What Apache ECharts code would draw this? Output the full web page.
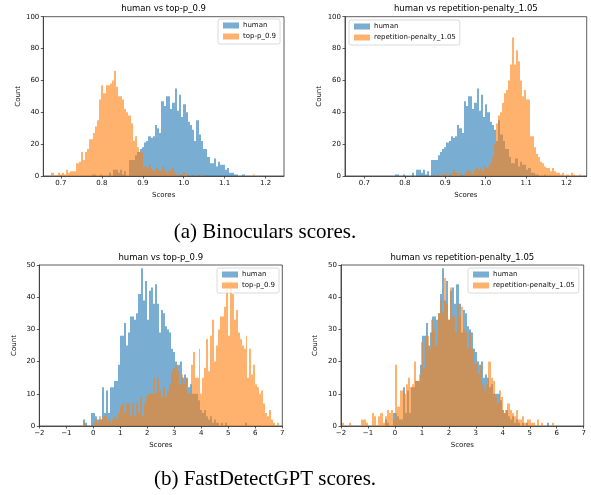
<!DOCTYPE html>
<html><head><meta charset="utf-8">
<script src="https://cdn.jsdelivr.net/npm/echarts@6/dist/echarts.min.js"></script>
<style>html,body{margin:0;padding:0;background:#fff}#c{width:591px;height:495px}</style>
</head><body><div id="c"></div>
<script>
// ---------- data ----------
const binocularsXTicks = [0.7, 0.8, 0.9, 1.0, 1.1, 1.2];
const fastXTicks = [-2, -1, 0, 1, 2, 3, 4, 5, 6, 7];

// Binoculars, human (shared by both top panels)
const binHumanStart = 0.684, binHumanWidth = 0.00534;
const binHumanCounts = [0,0,0,0,0,0,0,0,0,0, 0,0,0,0,0,0,0,1,1,0, 0,1,0,0,0,2,0,4,4,2,
  4,1,3,0,10,10,10,13,15,17, 18,21,22,25,24,25,32,30,27,47, 44,50,50,42,46,55,41,51,37,45,
  40,34,32,29,22,35,26,22,17,17, 12,8,8,11,6,9,7,7,4,5, 2,2,1,1,0,0,1,0,0,0, 0,0,0,0,0,0,0,0,0,0];

// Binoculars, top-p_0.9
const binTopPStart = 0.677, binTopPWidth = 0.00508;
const binTopPCounts = [2,0,0,2,1,2,1,4,2,3, 3,3,8,9,15,10,15,17,23,23, 27,31,35,48,57,52,57,57,58,60,
  66,56,50,50,48,42,40,38,33,22, 25,18,15,15,6,6,5,7,4,3, 5,4,3,6,4,2,3,4,5,2,
  1,1,0,2,1,0,1,0,0,1, 0,0,1,0,0,0,0,0,0,0, 0,0,0,0,0,0,0,0,0,0, 0,0,0,0,0,0,0,1,0,0];

// Binoculars, repetition-penalty_1.05
const binRepStart = 0.735, binRepWidth = 0.005;
const binRepCounts = [0,0,0,0,0,0,0,0,0,0, 0,0,0,0,0,0,0,0,0,0, 0,0,0,0,0,0,0,0,1,0,
  1,1,0,2,1,0,2,4,2,1, 2,0,1,2,4,3,1,4,5,4, 5,3,6,5,6,8,12,20,33,38,
  40,46,52,54,60,70,87,70,79,72, 60,50,54,48,48,25,25,18,14,12, 9,8,6,5,5,3,5,3,2,2, 1,2,0,1,0,2,1,0,0,1];

// FastDetectGPT, human (shared by both bottom panels)
const fastHumanStart = -0.378, fastHumanWidth = 0.076;
const fastHumanCounts = [2,1,0,0,4,4,3,2,2,12, 4,11,4,12,12,14,14,19,28,28, 32,25,29,34,34,33,35,41,49,39,
  45,33,42,43,38,44,38,29,36,35, 31,30,29,24,23,20,19,20,15,16, 15,12,13,10,10,10,8,5,4,5,
  3,2,3,1,2,1,0,1,0,1, 0,0,0,0,0,0,0,0,0,1];

// FastDetectGPT, top-p_0.9
const fastTopPStart = -0.38, fastTopPWidth = 0.0725;
const fastTopPCounts = [1,0,0,0,0,1,2,1,3,2, 3,3,1,2,1,2,3,2,4,6, 7,4,7,7,3,7,3,7,4,9,
  3,7,9,10,10,10,15,10,15,11, 9,12,9,11,13,17,18,19,17,13, 16,13,15,10,10,19,23,15,15,24,
  10,15,18,27,17,28,33,20,25,30, 34,34,37,45,28,45,41,33,36,29, 27,25,24,28,15,24,16,19,13,12, 10,11,7,4,3,5,2,1,0,1];

// FastDetectGPT, repetition-penalty_1.05
const fastRepStart = -1.95, fastRepWidth = 0.0785;
const fastRepCounts = [1,0,0,1,0,0,0,0,0,2, 2,1,0,0,4,3,0,3,4,1, 3,5,4,5,2,19,6,11,11,10,
  13,15,12,13,20,14,16,26,18,28, 28,24,33,30,25,35,39,35,46,38, 33,43,34,29,38,34,37,30,29,24,
  29,24,19,20,16,19,13,11,13,20, 15,14,9,7,11,9,4,5,7,5, 4,3,5,2,2,3,1,2,2,1, 1,0,2,0,1,0,0,0,0,1];

const titles = ['human vs top-p_0.9', 'human vs repetition-penalty_1.05', 'human vs top-p_0.9', 'human vs repetition-penalty_1.05'];
const captions = ['(a) Binoculars scores.', '(b) FastDetectGPT scores.'];

// ---------- layout ----------
const FONT = 'DejaVu Sans';
const BLUE = 'rgba(31,119,180,0.6)', ORANGE = 'rgba(255,127,14,0.6)';
const BLUE_SOLID = 'rgb(121,173,210)', ORANGE_SOLID = 'rgb(255,178,110)';

const panels = [
  {grid:{left:43.3, top:16.7, width:240.7, height:159.3}, xMin:0.657, xMax:1.245, yMax:100, yInt:20, ticks:binocularsXTicks, dec:1,
   human:[binHumanStart, binHumanWidth, binHumanCounts], other:['top-p_0.9', binTopPStart, binTopPWidth, binTopPCounts], legend:{left:218, top:19}},
  {grid:{left:345, top:16.7, width:241.7, height:159.3}, xMin:0.652, xMax:1.25, yMax:100, yInt:20, ticks:binocularsXTicks, dec:1,
   human:[binHumanStart, binHumanWidth, binHumanCounts], other:['repetition-penalty_1.05', binRepStart, binRepWidth, binRepCounts], legend:{left:349, top:20}},
  {grid:{left:39.3, top:265, width:243, height:161}, xMin:-2, xMax:7, yMax:50, yInt:10, ticks:fastXTicks, dec:0,
   human:[fastHumanStart, fastHumanWidth, fastHumanCounts], other:['top-p_0.9', fastTopPStart, fastTopPWidth, fastTopPCounts], legend:{left:217, top:268}},
  {grid:{left:341, top:265, width:242.7, height:161}, xMin:-2, xMax:7, yMax:50, yInt:10, ticks:fastXTicks, dec:0,
   human:[fastHumanStart, fastHumanWidth, fastHumanCounts], other:['repetition-penalty_1.05', fastRepStart, fastRepWidth, fastRepCounts], legend:{left:468, top:268}}
];

function bins(start, width, counts) {
  return counts.map((c, i) => [start + i * width, start + (i + 1) * width, c]).filter(d => d[2] > 0);
}
function rectRenderer(fill) {
  return function (params, api) {
    const a = api.coord([api.value(0), api.value(2)]);
    const b = api.coord([api.value(1), 0]);
    const x0 = Math.round(a[0]), x1 = Math.round(b[0]);
    return {type:'rect', shape:{x:x0, y:a[1], width:Math.max(1, x1 - x0), height:b[1]-a[1]}, style:{fill:fill}};
  };
}
function fmtInt(v) {
  return v < 0 ? '\u2212' + Math.abs(v) : String(v);
}
function fmtDec(v) {
  return Number(v).toFixed(1);
}

const AXC = '#333';
const option = {
  animation:false, backgroundColor:'#fff',
  title:[], legend:[], grid:[], xAxis:[], yAxis:[], series:[]
};

panels.forEach((p, k) => {
  option.grid.push(Object.assign({show:true, borderColor:AXC, borderWidth:0.8, backgroundColor:'transparent'}, p.grid));
  const xa = {gridIndex:k, type:'value', min:p.xMin, max:p.xMax,
    name:'Scores', nameLocation:'middle', nameGap:15.5,
    nameTextStyle:{fontFamily:FONT, fontSize:7, color:'#111'},
    axisLine:{show:true, onZero:false, lineStyle:{color:AXC, width:0.8}},
    axisTick:{show:true, length:2.5, lineStyle:{color:AXC, width:0.8}},
    axisLabel:{fontFamily:FONT, fontSize:7, color:'#111', margin:4, formatter:p.dec ? fmtDec : fmtInt},
    splitLine:{show:false}};
  if (p.dec) {
    xa.axisTick.customValues = p.ticks;
    xa.axisLabel.customValues = p.ticks;
  } else {
    xa.interval = 1;
  }
  option.xAxis.push(xa);
  option.yAxis.push({gridIndex:k, type:'value', min:0, max:p.yMax, interval:p.yInt,
    name:'Count', nameLocation:'middle', nameGap:22, nameRotate:90,
    nameTextStyle:{fontFamily:FONT, fontSize:7, color:'#111'},
    axisLine:{show:true, onZero:false, lineStyle:{color:AXC, width:0.8}},
    axisTick:{show:true, length:2.5, lineStyle:{color:AXC, width:0.8}},
    axisLabel:{fontFamily:FONT, fontSize:7, color:'#111', margin:4, formatter:fmtInt},
    splitLine:{show:false}});
  option.title.push({text:titles[k], left:p.grid.left + p.grid.width / 2, top:p.grid.top - 12.2, textAlign:'center', padding:0,
    textStyle:{fontFamily:FONT, fontSize:8.5, fontWeight:'normal', color:'#000'}});
  option.series.push({type:'custom', name:'human', xAxisIndex:k, yAxisIndex:k, clip:true,
    renderItem:rectRenderer(BLUE), encode:{x:[0,1], y:2}, itemStyle:{color:BLUE_SOLID},
    data:bins(p.human[0], p.human[1], p.human[2])});
  option.series.push({type:'custom', name:p.other[0], xAxisIndex:k, yAxisIndex:k, clip:true,
    renderItem:rectRenderer(ORANGE), encode:{x:[0,1], y:2}, itemStyle:{color:ORANGE_SOLID},
    data:bins(p.other[1], p.other[2], p.other[3])});
  option.legend.push({left:p.legend.left, top:p.legend.top, orient:'vertical', selectedMode:false,
    itemWidth:16, itemHeight:6, itemGap:4, padding:[3,4,4,5],
    backgroundColor:'rgba(255,255,255,0.8)', borderColor:'#d0d0d0', borderWidth:0.8, borderRadius:2,
    textStyle:{fontFamily:FONT, fontSize:7, color:'#111', padding:[0,0,0,-1]},
    data:[{name:'human', icon:'rect', itemStyle:{color:BLUE_SOLID}},
          {name:p.other[0], icon:'rect', itemStyle:{color:ORANGE_SOLID}}]});
});

option.title.push({text:captions[0], left:265, top:221.5, textAlign:'center', padding:0,
  textStyle:{fontFamily:'Liberation Serif', fontSize:21, fontWeight:'normal', color:'#000'}});
option.title.push({text:captions[1], left:265, top:469, textAlign:'center', padding:0,
  textStyle:{fontFamily:'Liberation Serif', fontSize:21, fontWeight:'normal', color:'#000'}});

const chart = echarts.init(document.getElementById('c'), null, {renderer:'canvas'});
chart.setOption(option);
</script></body></html>
